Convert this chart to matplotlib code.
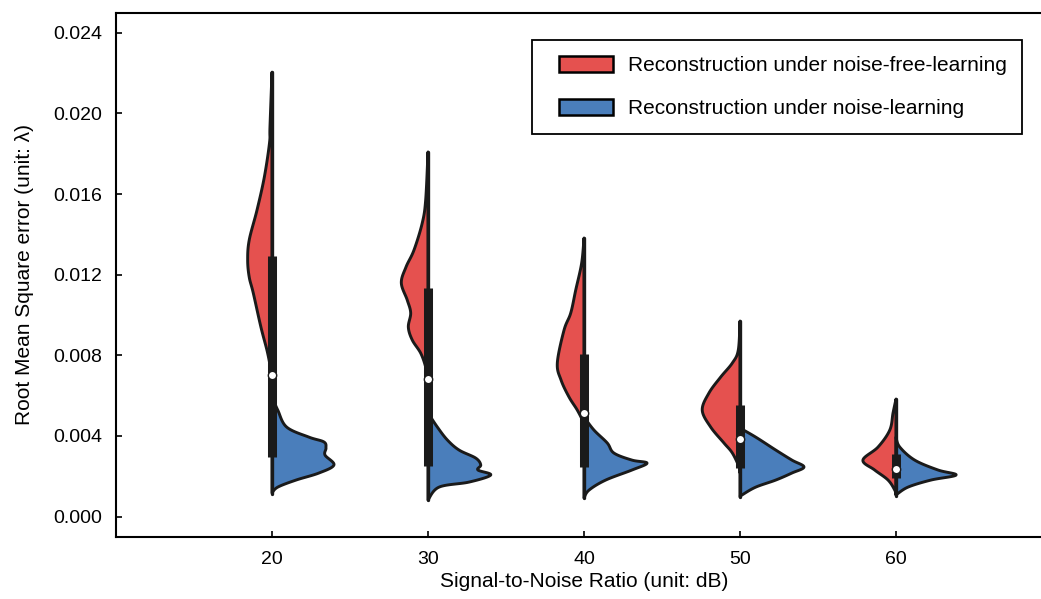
"""Split violin: RMSE of reconstruction vs SNR"""

import numpy as np
import matplotlib
matplotlib.use('Agg')
import matplotlib.pyplot as plt
from matplotlib.patches import Patch, Rectangle
from matplotlib.legend_handler import HandlerPatch

plt.rcParams['font.family'] = ['Liberation Sans', 'DejaVu Sans']

snr = ['20', '30', '40', '50', '60']
labels = ['Reconstruction under noise-free-learning', 'Reconstruction under noise-learning']
colors = ['#E5514F', '#4A7EBB']

# density profile: levels (RMSE) and half width (category units)
free_levels = [
    [0.02205, 0.01933, 0.01854, 0.01685, 0.01521, 0.01372, 0.01273, 0.01188, 0.01109, 0.00940, 0.00811, 0.00712, 0.00613],
    [0.01809, 0.01570, 0.01456, 0.01322, 0.01238, 0.01159, 0.01074, 0.01010, 0.00940, 0.00876, 0.00811, 0.00742, 0.00677],
    [0.01382, 0.01258, 0.01124, 0.01010, 0.00925, 0.00762, 0.00677, 0.00593, 0.00528, 0.00464],
    [0.00970, 0.00826, 0.00762, 0.00692, 0.00613, 0.00528, 0.00444, 0.00365, 0.00315, 0.00246, 0.00216],
    [0.00583, 0.00514, 0.00429, 0.00345, 0.00280, 0.00231, 0.00181, 0.00131, 0.00107],
]
free_width = [
    [0.0, 0.013, 0.016, 0.049, 0.096, 0.146, 0.156, 0.146, 0.120, 0.071, 0.028, 0.006, 0.0],
    [0.0, 0.015, 0.037, 0.090, 0.141, 0.171, 0.133, 0.111, 0.126, 0.101, 0.047, 0.015, 0.0],
    [0.0, 0.015, 0.053, 0.085, 0.128, 0.171, 0.147, 0.096, 0.043, 0.0],
    [0.0, 0.011, 0.049, 0.124, 0.199, 0.242, 0.188, 0.103, 0.049, 0.006, 0.0],
    [0.0, 0.019, 0.040, 0.115, 0.212, 0.137, 0.051, 0.008, 0.0],
]
noise_levels = [
    [0.00593, 0.00528, 0.00444, 0.00394, 0.00370, 0.00340, 0.00305, 0.00256, 0.00216, 0.00181, 0.00146, 0.00117],
    [0.00514, 0.00444, 0.00380, 0.00330, 0.00290, 0.00256, 0.00231, 0.00206, 0.00171, 0.00146, 0.00082],
    [0.00494, 0.00429, 0.00365, 0.00315, 0.00280, 0.00265, 0.00231, 0.00181, 0.00131, 0.00092],
    [0.00439, 0.00394, 0.00330, 0.00280, 0.00246, 0.00216, 0.00181, 0.00146, 0.00107, 0.00097],
    [0.00394, 0.00345, 0.00280, 0.00231, 0.00206, 0.00181, 0.00146, 0.00107],
]
noise_width = [
    [0.0, 0.037, 0.094, 0.237, 0.333, 0.346, 0.340, 0.397, 0.301, 0.154, 0.037, 0.0],
    [0.0, 0.060, 0.124, 0.199, 0.306, 0.338, 0.320, 0.402, 0.263, 0.071, 0.0],
    [0.0, 0.064, 0.149, 0.192, 0.308, 0.404, 0.308, 0.139, 0.032, 0.0],
    [0.0, 0.101, 0.229, 0.333, 0.410, 0.333, 0.229, 0.101, 0.013, 0.0],
    [0.0, 0.024, 0.120, 0.269, 0.385, 0.224, 0.077, 0.0],
]

# box stats (both groups together)
whis_lo = [0.00114, 0.00080, 0.00090, 0.00097, 0.00104]
q1 = [0.00293, 0.00253, 0.00245, 0.00243, 0.00193]
median = [0.00704, 0.00684, 0.00512, 0.00387, 0.00238]
q3 = [0.01294, 0.01132, 0.00807, 0.00555, 0.00312]
whis_hi = [0.02205, 0.01809, 0.01382, 0.00970, 0.00583]


def smooth(ys, ws, n=16):
    # catmull-rom through the read points
    pts = np.column_stack([ys, ws])
    p = np.vstack([pts[0], pts, pts[-1]])
    out = []
    t = np.linspace(0, 1, n, endpoint=False)[:, None]
    for i in range(1, len(p) - 2):
        p0, p1, p2, p3 = p[i - 1], p[i], p[i + 1], p[i + 2]
        seg = 0.5 * (2 * p1 + (-p0 + p2) * t + (2 * p0 - 5 * p1 + 4 * p2 - p3) * t ** 2
                     + (-p0 + 3 * p1 - 3 * p2 + p3) * t ** 3)
        out.append(seg)
    out.append(pts[-1][None])
    s = np.vstack(out)
    return s[:, 0], np.clip(s[:, 1], 0, None)


fig = plt.figure(figsize=(10.41, 5.99), dpi=100)
ax = fig.add_axes([116 / 1041, 1 - 536.7 / 599, (1052 - 116) / 1041, 524 / 599])

for i in range(len(snr)):
    y, w = smooth(free_levels[i], free_width[i])
    ax.fill(np.r_[i - w, i, i], np.r_[y, y[-1], y[0]], facecolor=colors[0],
            edgecolor='#1a1a1a', linewidth=2.1, joinstyle='round', zorder=2)
    y, w = smooth(noise_levels[i], noise_width[i])
    ax.fill(np.r_[i + w, i, i], np.r_[y, y[-1], y[0]], facecolor=colors[1],
            edgecolor='#1a1a1a', linewidth=2.1, joinstyle='round', zorder=2)
    ax.plot([i, i], [whis_lo[i], whis_hi[i]], color='#1a1a1a', lw=2.4, solid_capstyle='round', zorder=3)
    ax.plot([i, i], [q1[i], q3[i]], color='#1a1a1a', lw=6.5, solid_capstyle='butt', zorder=4)
    ax.plot(i, median[i], 'o', color='white', ms=6, mec='#1a1a1a', mew=1.0, zorder=5)

ax.set_xlim(-1, 5)
ax.set_ylim(-0.001, 0.025)
ax.set_xticks(range(len(snr)))
ax.set_xticklabels(snr)
ax.set_yticks(np.arange(0, 0.0241, 0.004))
ax.yaxis.set_major_formatter(matplotlib.ticker.FormatStrFormatter('%.3f'))
ax.tick_params(direction='in', length=4, width=1.2, labelsize=14, pad=10, top=False, right=False)
for s in ax.spines.values():
    s.set_linewidth(1.5)
ax.set_xlabel('Signal-to-Noise Ratio (unit: dB)', fontsize=15, labelpad=3)
ax.set_ylabel('Root Mean Square error (unit: λ)', fontsize=15, labelpad=14)


def shifted_patch(legend, orig_handle, xdescent, ydescent, width, height, fontsize):
    off = 8
    return Rectangle((-xdescent + off, -ydescent), width - off, height)


handles = [Patch(facecolor=c, edgecolor='black', linewidth=1.8) for c in colors]
leg = ax.legend(handles, labels, loc='upper right', bbox_to_anchor=(1022 / 1041, 1 - 40 / 599),
                bbox_transform=fig.transFigure, borderaxespad=0, fontsize=15, frameon=True,
                fancybox=False, framealpha=1, edgecolor='black', handlelength=3.1,
                handleheight=0.82, handletextpad=0.72, labelspacing=1.16, borderpad=0.75,
                handler_map={Patch: HandlerPatch(patch_func=shifted_patch)})
leg.get_frame().set_linewidth(1.3)

plt.savefig('out.png', dpi=100)
